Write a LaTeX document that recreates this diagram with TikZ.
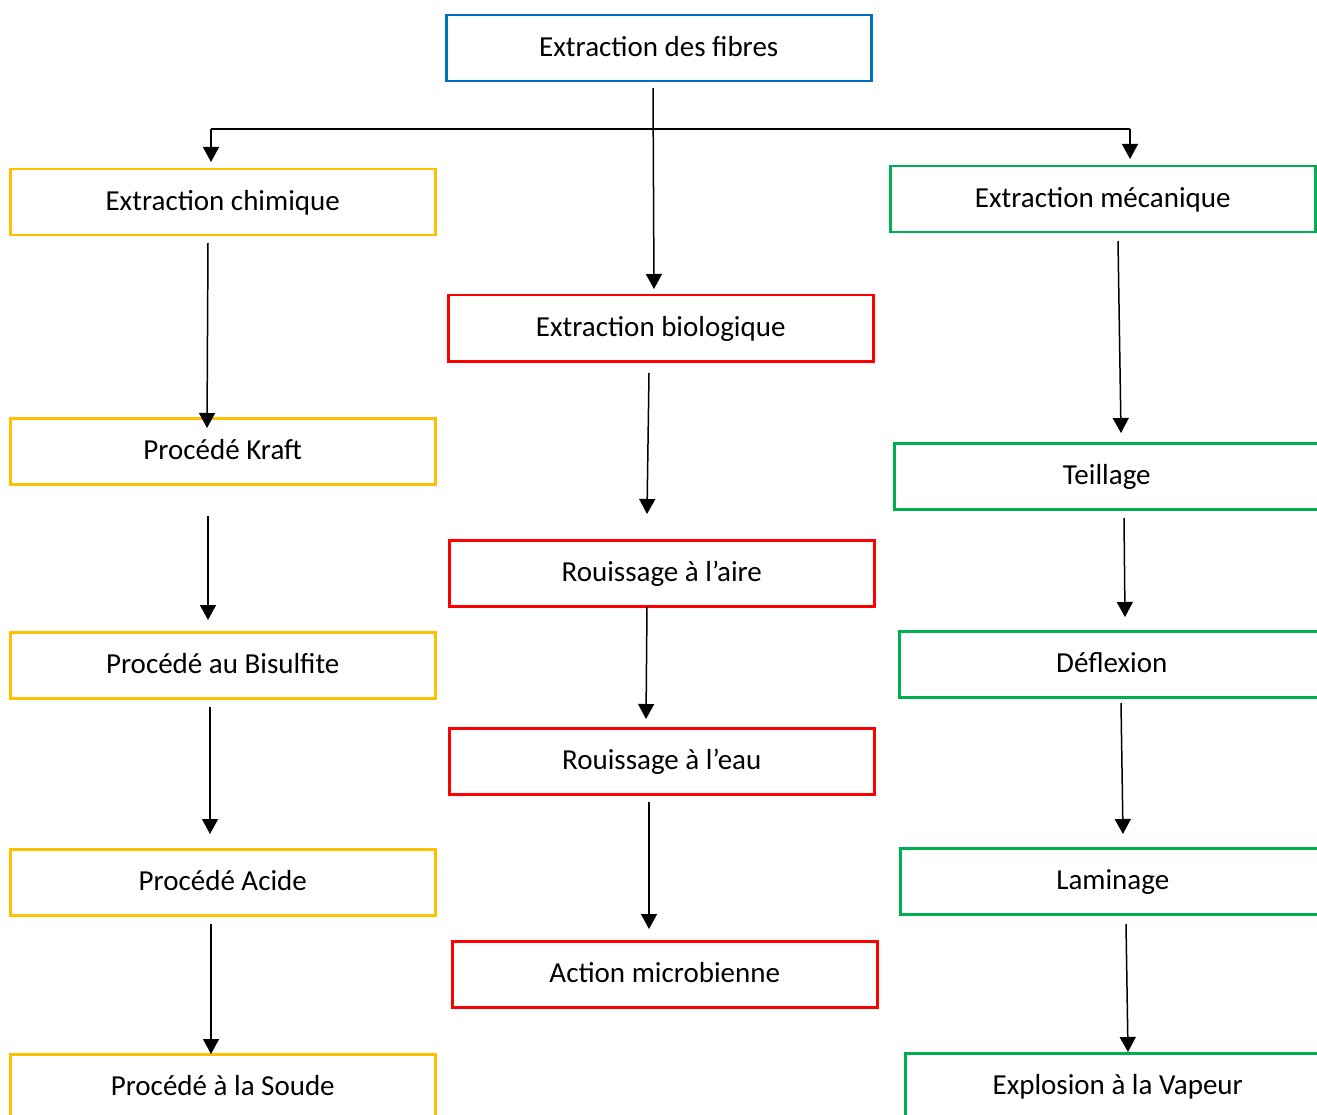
\documentclass[tikz,border=0pt]{standalone}
\usepackage{fontspec}
\setmainfont{Carlito}
\usetikzlibrary{arrows.meta}
\definecolor{cblue}{RGB}{0,112,192}
\definecolor{cyel}{RGB}{255,192,0}
\definecolor{cgreen}{RGB}{0,176,80}
\definecolor{cred}{RGB}{255,0,0}
\begin{document}
\begin{tikzpicture}[x=1pt,y=-1pt,
  box/.style={draw,line width=2.5pt,minimum width=425pt,minimum height=66pt,inner sep=0pt,
    font=\fontsize{29}{34}\selectfont,anchor=north west,text height=21pt,text depth=5pt},
  bbox/.style={box,draw=cblue},
  ybox/.style={box,draw=cyel},
  gbox/.style={box,draw=cgreen},
  rbox/.style={box,draw=cred},
  arr/.style={line width=1.5pt,-{Triangle[length=15pt,width=16pt]}},
  ln/.style={line width=1.5pt}]
\useasboundingbox (0,0) rectangle (1317,1115);
\clip (0,0) rectangle (1317,1115);
\fill[white] (0,0) rectangle (1317,1115);
% boxes
\node[bbox] (top) at (445,14) {Extraction des fibres\hspace{4pt}};
\node[ybox] (chim) at (9,168) {Extraction chimique\hspace{4pt}};
\node[gbox] (meca) at (889,165) {Extraction mécanique\hspace{4pt}};
\node[rbox] (bio) at (447,294) {Extraction biologique\hspace{4pt}};
\node[ybox] (kraft) at (9,417) {Procédé Kraft\hspace{4pt}};
\node[gbox] (teil) at (893,442) {Teillage\hspace{4pt}};
\node[rbox] (aire) at (448,539) {Rouissage à l’aire\hspace{4pt}};
\node[ybox] (bisul) at (9,631) {Procédé au Bisulfite\hspace{4pt}};
\node[gbox] (defl) at (898,630) {Déflexion\hspace{4pt}};
\node[rbox] (eau) at (448,727) {Rouissage à l’eau\hspace{4pt}};
\node[ybox] (acide) at (9,848) {Procédé Acide\hspace{4pt}};
\node[gbox] (lamin) at (899,847) {Laminage\hspace{4pt}};
\node[rbox] (micro) at (451,940) {Action microbienne\hspace{4pt}};
\node[ybox] (soude) at (9,1053) {Procédé à la Soude\hspace{4pt}};
\node[gbox] (vap) at (904,1052) {Explosion à la Vapeur\hspace{4pt}};
% connector coordinates
\coordinate (t0) at (653,88);
\coordinate (t1) at (654,289);
\coordinate (hl) at (211,129);
\coordinate (hr) at (1130,129);
\coordinate (hlE) at (211,162);
\coordinate (hrE) at (1130,159);
\coordinate (c1) at (208,243); \coordinate (c2) at (207,428);
\coordinate (c3) at (208,516); \coordinate (c4) at (208,620);
\coordinate (c5) at (210,707); \coordinate (c6) at (210,834);
\coordinate (c7) at (211,924); \coordinate (c8) at (211,1054);
\coordinate (m1) at (649,373); \coordinate (m2) at (647,514);
\coordinate (m3) at (647,607); \coordinate (m4) at (646,719);
\coordinate (m5) at (649,802); \coordinate (m6) at (649,929);
\coordinate (r1) at (1118,241); \coordinate (r2) at (1121,433);
\coordinate (r3) at (1124,518); \coordinate (r4) at (1125,617);
\coordinate (r5) at (1121,703); \coordinate (r6) at (1123,834);
\coordinate (r7) at (1126,924); \coordinate (r8) at (1128,1052);
% connectors
\draw[arr] (t0) -- (t1);
\draw[ln] (hl) -- (hr);
\draw[arr] (hl) -- (hlE);
\draw[arr] (hr) -- (hrE);
\draw[arr] (c1) -- (c2);
\draw[arr] (c3) -- (c4);
\draw[arr] (c5) -- (c6);
\draw[arr] (c7) -- (c8);
\draw[arr] (m1) -- (m2);
\draw[arr] (m3) -- (m4);
\draw[arr] (m5) -- (m6);
\draw[arr] (r1) -- (r2);
\draw[arr] (r3) -- (r4);
\draw[arr] (r5) -- (r6);
\draw[arr] (r7) -- (r8);
\end{tikzpicture}
\end{document}
